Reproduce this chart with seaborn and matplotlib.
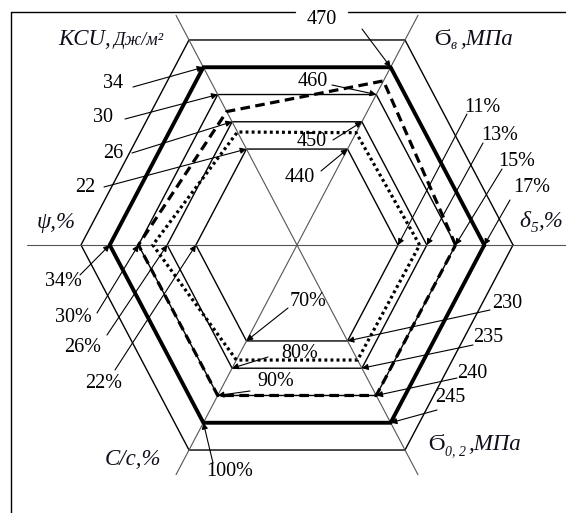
import numpy as np
import pandas as pd
import matplotlib
matplotlib.use("Agg")
import matplotlib.pyplot as plt
import seaborn as sns

sns.set_style("white")
plt.rcParams["font.family"] = ["Liberation Serif", "DejaVu Serif"]

# axes of the diagram, counter-clockwise from the right: δ5, σв, KCU, ψ, C/c, σ0,2
axis_angles = [0, 60, 120, 180, 240, 300]
delta5_ticks = [11, 13, 15, 17]
sigma_v_ticks = [440, 450, 460, 470]
kcu_ticks = [22, 26, 30, 34]
psi_ticks = [22, 26, 30, 34]
cc_ticks = [70, 80, 90, 100]
sigma02_ticks = [230, 235, 240, 245]
tick_sets = [delta5_ticks, sigma_v_ticks, kcu_ticks, psi_ticks, cc_ticks, sigma02_ticks]
tick_suffix = ["%", "", "", "%", "%", ""]

# three materials (solid / dashed / dotted)
solid_vals = [17, 470, 34, 34, 100, 245]
dashed_vals = [15, 465, 27.5, 30, 90, 240]
dotted_vals = [12.5, 446, 24.5, 28, 77, 233.5]

# geometry (pixels of the figure)
CX, CY, R, SY = 297, 245, 216, 1.096
R0, DR = 0.468, 0.133


def to_r(v, ticks):
    return R0 + DR * (v - ticks[0]) / (ticks[1] - ticks[0])


def to_px(r, ang):
    a = np.deg2rad(ang)
    return CX + R * r * np.cos(a), CY - R * SY * r * np.sin(a)


def polygon(vals):
    pts = [to_px(to_r(v, t), a) for v, t, a in zip(vals, tick_sets, axis_angles)]
    pts.append(pts[0])
    return pd.DataFrame(pts, columns=["x", "y"])


fig = plt.figure(figsize=(5.66, 5.13), dpi=100)
ax = fig.add_axes([0, 0, 1, 1])

# grid hexagons
for i in range(5):
    r = R0 + DR * i
    pts = [to_px(r, a) for a in axis_angles + [0]]
    ax.plot([p[0] for p in pts], [p[1] for p in pts], color="black", lw=1.0)

# spokes
for a in (60, 120):
    p1, p2 = to_px(1.12, a), to_px(-1.12, a)
    ax.plot([p1[0], p2[0]], [p1[1], p2[1]], color="#555555", lw=0.8)
ax.plot([27, 566], [CY, CY], color="#555555", lw=0.8)

# data polygons
sns.lineplot(data=polygon(solid_vals), x="x", y="y", sort=False, estimator=None,
             color="black", lw=2.8, ax=ax)
sns.lineplot(data=polygon(dashed_vals), x="x", y="y", sort=False, estimator=None,
             color="black", lw=2.3, dashes=(3, 1.7), ax=ax)
sns.lineplot(data=polygon(dotted_vals), x="x", y="y", sort=False, estimator=None,
             color="black", lw=2.3, dashes=(0.9, 1.0), ax=ax)

# tick labels: (text centre, arrow start) for rings 1..4
label_layout = [
    [((482, 107), (467, 114)), ((500, 135), (483, 143)), ((517, 162), (502, 169)), ((532, 188), (510, 200))],
    [((300, 177), (321, 171)), ((312, 142), (333, 140)), ((313, 82), (332, 85)), ((322, 20), (362, 29))],
    [((85, 188), (104, 187)), ((113, 153), (132, 153)), ((103, 117), (125, 119)), ((113, 83), (133, 87))],
    [((104, 383), (115, 370)), ((83, 347), (107, 335)), ((73, 318), (97, 313)), ((63, 282), (80, 275))],
    [((308, 302), (288, 308)), ((300, 353), (268, 357)), ((276, 382), (250, 391)), ((230, 472), (213, 463))],
    [((507, 303), (490, 310)), ((488, 338), (473, 345)), ((472, 373), (457, 378)), ((450, 398), (437, 410))],
]
arrow_kw = dict(arrowstyle="-|>", color="black", lw=0.8, mutation_scale=9, shrinkA=0, shrinkB=0)
for ticks, suf, ang, layout in zip(tick_sets, tick_suffix, axis_angles, label_layout):
    for t, (txy, start) in zip(ticks, layout):
        ax.annotate("", xy=to_px(to_r(t, ticks), ang), xytext=start, arrowprops=arrow_kw)
        ax.text(txy[0], txy[1], f"{t}{suf}", fontsize=14.5, ha="center", va="center",
                color="black")

# axis titles
it = dict(style="italic", va="baseline", color="#10101c")
ax.text(58, 45, "KCU,", fontsize=16.5, **it)
ax.text(113, 45, "Дж/м²", fontsize=13, **it)
ax.text(434, 45, "Ϭ", fontsize=17, va="baseline", color="#10101c")
ax.text(451, 49, "в", fontsize=10, **it)
ax.text(460, 45, ",МПа", fontsize=16.5, **it)
ax.text(519, 227, "δ", fontsize=17, **it)
ax.text(531, 232, "5", fontsize=11, **it)
ax.text(538, 227, ",%", fontsize=16.5, **it)
ax.text(37, 228, "ψ,%", fontsize=16.5, **it)
ax.text(105, 465, "C/c,%", fontsize=16.5, **it)
ax.text(428, 450, "Ϭ", fontsize=17, va="baseline", color="#10101c")
ax.text(445, 455, "0, 2", fontsize=10, **it)
ax.text(468, 450, ",МПа", fontsize=16.5, **it)

# frame
ax.plot([11, 11], [12, 513], color="black", lw=1)
ax.plot([11, 295], [12, 12], color="black", lw=1)
ax.plot([348, 566], [12, 12], color="black", lw=1)

ax.set_xlim(0, 566)
ax.set_ylim(513, 0)
ax.axis("off")
fig.savefig("out.png", dpi=100)
